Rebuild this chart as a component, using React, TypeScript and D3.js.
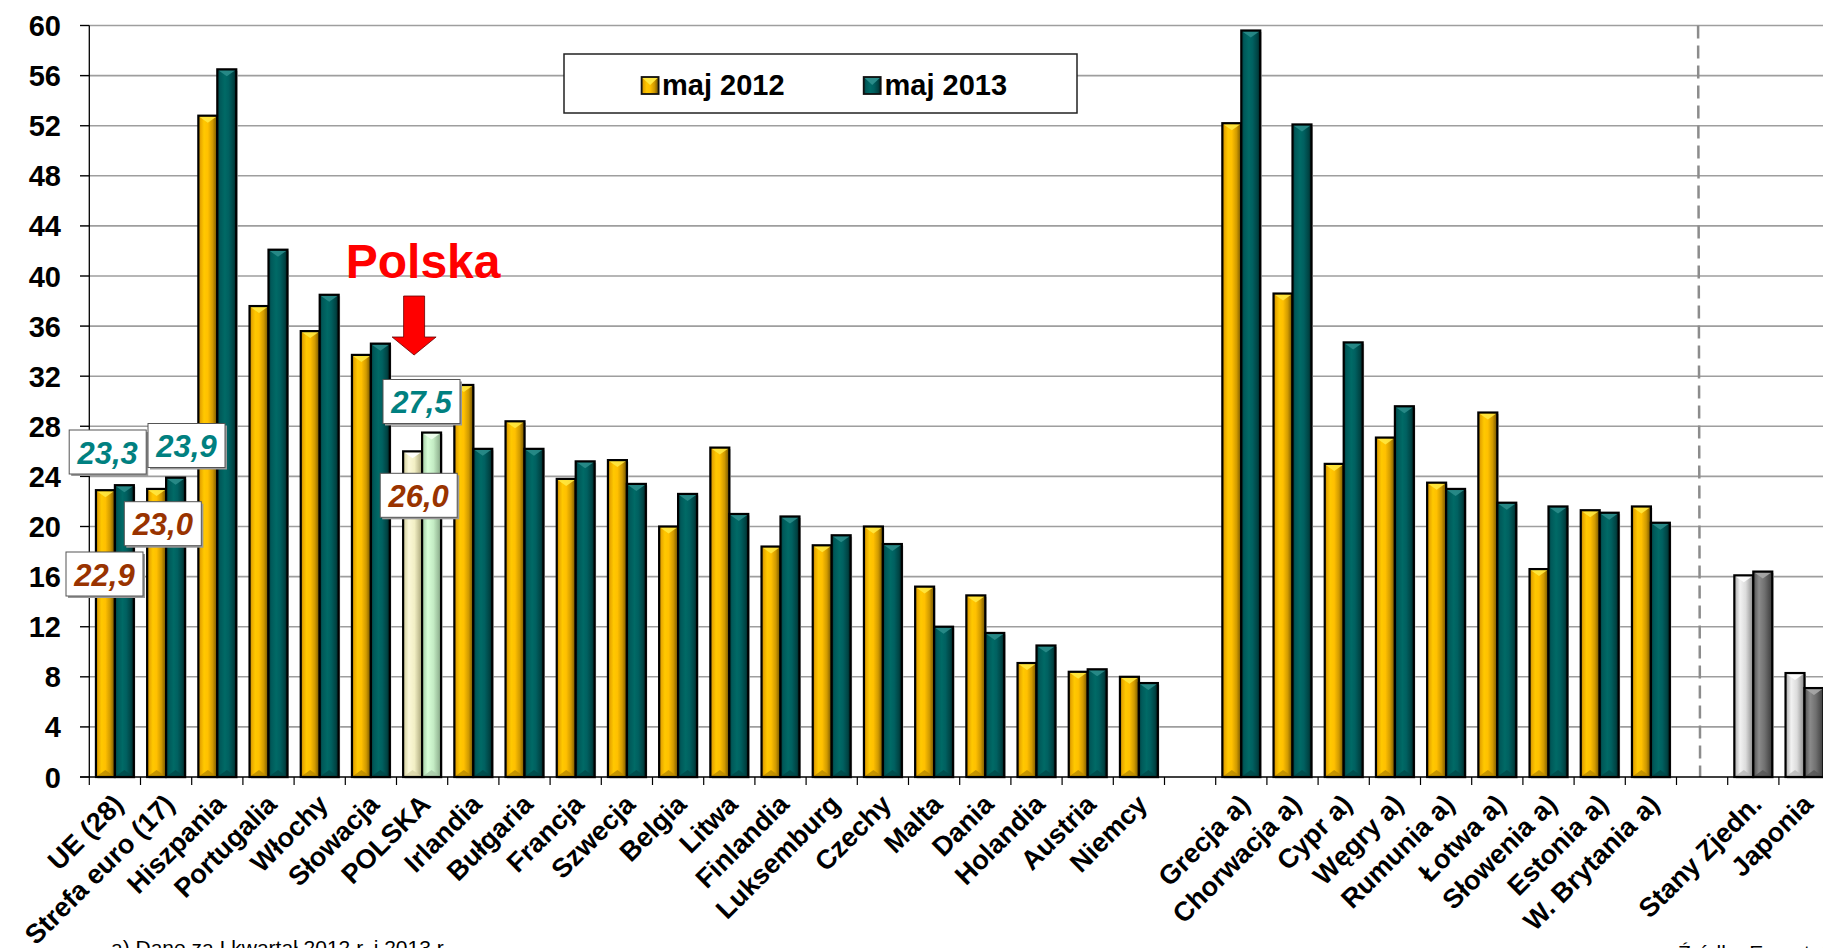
import React from 'react';
import * as d3 from 'd3';

// Stopa bezrobocia osób do 25 lat (%), maj 2012 vs maj 2013
const categories = [
  'UE (28)', 'Strefa euro (17)', 'Hiszpania', 'Portugalia', 'Włochy', 'Słowacja', 'POLSKA',
  'Irlandia', 'Bułgaria', 'Francja', 'Szwecja', 'Belgia', 'Litwa', 'Finlandia', 'Luksemburg',
  'Czechy', 'Malta', 'Dania', 'Holandia', 'Austria', 'Niemcy', '',
  'Grecja a)', 'Chorwacja a)', 'Cypr a)', 'Węgry a)', 'Rumunia a)', 'Łotwa a)', 'Słowenia a)',
  'Estonia a)', 'W. Brytania a)', '', 'Stany Zjedn.', 'Japonia',
];

const may2012 = [
  22.9, 23.0, 52.8, 37.6, 35.6, 33.7, 26.0, 31.3, 28.4, 23.8, 25.3, 20.0, 26.3, 18.4, 18.5,
  20.0, 15.2, 14.5, 9.1, 8.4, 8.0, null,
  52.2, 38.6, 25.0, 27.1, 23.5, 29.1, 16.6, 21.3, 21.6, null, 16.1, 8.3,
];

const may2013 = [
  23.3, 23.9, 56.5, 42.1, 38.5, 34.6, 27.5, 26.2, 26.2, 25.2, 23.4, 22.6, 21.0, 20.8, 19.3,
  18.6, 12.0, 11.5, 10.5, 8.6, 7.5, null,
  59.6, 52.1, 34.7, 29.6, 23.0, 21.9, 21.6, 21.1, 20.3, null, 16.4, 7.1,
];

const seriesNames = ['maj 2012', 'maj 2013'];
const yTicks = [0, 4, 8, 12, 16, 20, 24, 28, 32, 36, 40, 44, 48, 52, 56, 60];

// value callouts: category index, series index, text
const callouts = [
  { cat: 0, s: 1, text: '23,3' },
  { cat: 0, s: 0, text: '22,9' },
  { cat: 1, s: 1, text: '23,9' },
  { cat: 1, s: 0, text: '23,0' },
  { cat: 6, s: 1, text: '27,5' },
  { cat: 6, s: 0, text: '26,0' },
];

const W = 1823;
const H = 948;
const axisX = 89.3;
const slotW = 51.2;
const y0 = 777;
const yTop = 25.5;

const x = d3.scaleBand<number>()
  .domain(categories.map((_, i) => i))
  .range([axisX, axisX + slotW * categories.length])
  .paddingInner(0)
  .paddingOuter(0);

const xs = d3.scaleBand<number>()
  .domain([0, 1])
  .range([0, slotW])
  .paddingInner(0)
  .paddingOuter(0.35);

const y = d3.scaleLinear().domain([0, 60]).range([y0, yTop]);

const FONT = "'Liberation Sans', Arial, sans-serif";

type Grad = { id: string; stops: [number, string][]; tip: string; foot: string };

const grads: Grad[] = [
  { id: 'g-yel', stops: [[0, '#a87800'], [0.12, '#e8a800'], [0.3, '#ffc800'], [0.5, '#ffc000'], [0.75, '#d09a00'], [1, '#6e5000']], tip: '#ffe840', foot: '#b88a00' },
  { id: 'g-teal', stops: [[0, '#003c3c'], [0.15, '#005a5a'], [0.4, '#006a66'], [0.6, '#006060'], [0.85, '#004444'], [1, '#002020']], tip: '#2a8c8a', foot: '#004848' },
  { id: 'g-pyel', stops: [[0, '#d0cc98'], [0.3, '#fbf8d8'], [0.6, '#f2efc4'], [1, '#a8a478']], tip: '#ffffff', foot: '#d8d4a8' },
  { id: 'g-pgrn', stops: [[0, '#a0c8a0'], [0.3, '#d8ffd8'], [0.6, '#c4ecc4'], [1, '#86a686']], tip: '#f0fff0', foot: '#a8c8a8' },
  { id: 'g-lgray', stops: [[0, '#a8a8a8'], [0.3, '#f2f2f2'], [0.6, '#dcdcdc'], [1, '#8a8a8a']], tip: '#ffffff', foot: '#b8b8b8' },
  { id: 'g-dgray', stops: [[0, '#505050'], [0.3, '#8a8a8a'], [0.6, '#707070'], [1, '#3a3a3a']], tip: '#a8a8a8', foot: '#555555' },
];

const gradFor = (cat: number, s: number): Grad => {
  const name = categories[cat];
  if (name === 'POLSKA') return grads[s === 0 ? 2 : 3];
  if (name === 'Stany Zjedn.' || name === 'Japonia') return grads[s === 0 ? 4 : 5];
  return grads[s === 0 ? 0 : 1];
};

const Bar: React.FC<{ bx: number; top: number; w: number; g: Grad }> = ({ bx, top, w, g }) => {
  const bottom = y0;
  const tipH = Math.min(7, (bottom - top) / 2);
  return (
    <g>
      <rect x={bx + 1.5} y={top + 1.5} width={w} height={bottom - top} fill="#c8c8c8" />
      <rect x={bx} y={top} width={w} height={bottom - top} fill={`url(#${g.id})`} />
      <path d={`M${bx + 1},${top + 1}L${bx + w - 1},${top + 1}L${bx + w / 2},${top + tipH}Z`} fill={g.tip} opacity={0.9} />
      <path d={`M${bx + 1},${bottom - 1}L${bx + w - 1},${bottom - 1}L${bx + w / 2},${bottom - tipH}Z`} fill={g.foot} opacity={0.8} />
      <rect x={bx} y={top} width={w} height={bottom - top} fill="none" stroke="#000" strokeWidth={2.2} />
    </g>
  );
};

const Swatch: React.FC<{ sx: number; sy: number; g: Grad }> = ({ sx, sy, g }) => (
  <g>
    <rect x={sx} y={sy} width={17} height={17} fill={`url(#${g.id})`} stroke="#111" strokeWidth={1.8} />
    <path d={`M${sx + 1},${sy + 1}L${sx + 16},${sy + 1}L${sx + 8.5},${sy + 8}Z`} fill={g.tip} />
  </g>
);

// callout box centre: x offset from slot centre, absolute y (layout only)
const calloutPos: Record<string, [number, number]> = {
  '0-1': [-7.2, 452],
  '0-0': [-10.4, 574],
  '1-1': [20.4, 445.5],
  '1-0': [-3.3, 523.7],
  '6-1': [-0.6, 401.5],
  '6-0': [-3.4, 495.3],
};

export default function App() {
  const values = [may2012, may2013];
  const polskaIdx = categories.indexOf('POLSKA');
  const polskaCx = (x(polskaIdx) as number) + slotW / 2;
  const dashIdx = categories.lastIndexOf('');
  const dashX = (x(dashIdx) as number) + slotW / 2 - 2;

  return (
    <svg width={W} height={H} style={{ position: 'absolute', left: 0, top: 0, background: '#fff' }} fontFamily={FONT}>
      <defs>
        {grads.map(g => (
          <linearGradient key={g.id} id={g.id} x1="0" x2="1" y1="0" y2="0">
            {g.stops.map(([o, c], i) => <stop key={i} offset={o} stopColor={c} />)}
          </linearGradient>
        ))}
      </defs>
      <rect width={W} height={H} fill="#fff" />

      {/* gridlines */}
      {yTicks.filter(t => t > 0).map(t => (
        <line key={t} x1={80} x2={W} y1={y(t)} y2={y(t)} stroke="#9e9e9e" strokeWidth={1.6} />
      ))}

      {/* y axis labels & ticks */}
      {yTicks.map(t => (
        <g key={t}>
          <line x1={80} x2={axisX} y1={y(t)} y2={y(t)} stroke="#000" strokeWidth={1.2} />
          <text x={61} y={y(t) + 10.5} textAnchor="end" fontSize={29} fontWeight="bold" fill="#000">{t}</text>
        </g>
      ))}

      {/* dashed separator */}
      <line x1={dashX - 2} x2={dashX} y1={yTop} y2={y0} stroke="#8c8c8c" strokeWidth={2.5} strokeDasharray="13,7" />

      {/* bars */}
      {categories.map((c, i) =>
        values.map((vals, s) => {
          const v = vals[i];
          if (v == null) return null;
          const bx = (x(i) as number) + (xs(s) as number);
          return <Bar key={`${i}-${s}`} bx={bx} top={y(v)} w={xs.bandwidth()} g={gradFor(i, s)} />;
        })
      )}

      {/* axes */}
      <line x1={axisX} x2={axisX} y1={yTop} y2={y0} stroke="#000" strokeWidth={1.3} />
      <line x1={80} x2={W} y1={y0} y2={y0} stroke="#000" strokeWidth={1.6} />
      {d3.range(categories.length + 1).map(i => (
        <line key={i} x1={axisX + i * slotW} x2={axisX + i * slotW} y1={y0} y2={y0 + 8} stroke="#000" strokeWidth={1.2} />
      ))}

      {/* category labels */}
      {categories.map((c, i) => {
        if (!c) return null;
        const cx = (x(i) as number) + slotW / 2 + 10;
        const cy = 806;
        return (
          <text key={i} x={cx} y={cy} transform={`rotate(-45 ${cx} ${cy})`} textAnchor="end"
            fontSize={27} fontWeight="bold" fill="#000">{c}</text>
        );
      })}

      {/* value callouts */}
      {callouts.map(co => {
        const [dx, cy] = calloutPos[`${co.cat}-${co.s}`];
        const cx = (x(co.cat) as number) + slotW / 2 + dx;
        const bw = 77, bh = 44;
        return (
          <g key={`${co.cat}-${co.s}`}>
            <rect x={cx - bw / 2 + 2} y={cy - bh / 2 + 2} width={bw} height={bh} fill="#9a9a9a" />
            <rect x={cx - bw / 2} y={cy - bh / 2} width={bw} height={bh} fill="#fff" stroke="#555" strokeWidth={1} />
            <text x={cx} y={cy + 11.5} textAnchor="middle" fontSize={31} fontWeight="bold" fontStyle="italic"
              fill={co.s === 1 ? '#008080' : '#993300'}>{co.text}</text>
          </g>
        );
      })}

      {/* Polska annotation */}
      <text x={polskaCx + 1} y={278} textAnchor="middle" fontSize={48} fontWeight="bold" fill="#ff0000">Polska</text>
      <path
        d={`M${polskaCx - 18.5},296L${polskaCx + 2.5},296L${polskaCx + 2.5},337L${polskaCx + 14},337L${polskaCx - 8},355L${polskaCx - 30},337L${polskaCx - 18.5},337Z`}
        fill="#ff0000" stroke="#600" strokeWidth={0.8}
      />

      {/* legend */}
      <rect x={564} y={54} width={513} height={59} fill="#fff" stroke="#222" strokeWidth={1.5} />
      <Swatch sx={641.6} sy={77} g={grads[0]} />
      <text x={662} y={94.5} fontSize={29} fontWeight="bold" fill="#000">{seriesNames[0]}</text>
      <Swatch sx={863.7} sy={77} g={grads[1]} />
      <text x={884.5} y={94.5} fontSize={29} fontWeight="bold" fill="#000">{seriesNames[1]}</text>

      {/* footnotes */}
      <text x={111} y={955} fontSize={21} fill="#000">a) Dane za I kwartał 2012 r. i 2013 r.</text>
      <text x={1678} y={960} fontSize={21} fill="#000">Źródło: Eurostat</text>
    </svg>
  );
}
